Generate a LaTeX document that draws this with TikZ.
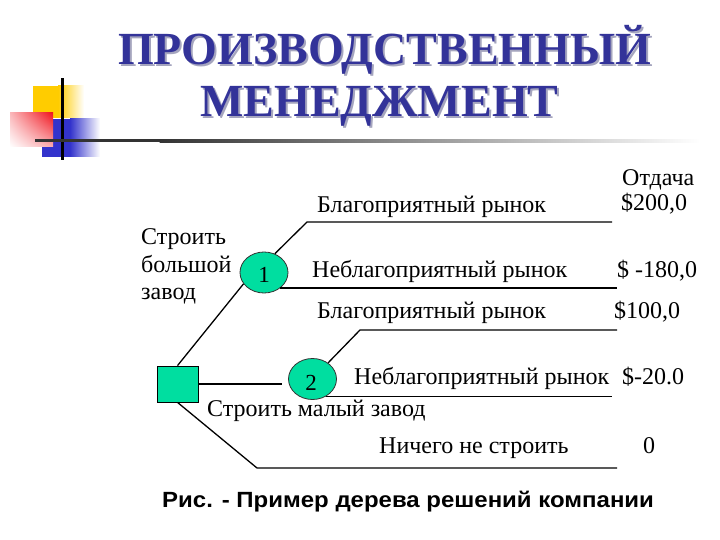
\documentclass[tikz,border=0pt]{standalone}
\usepackage{fontspec}
\usepackage{graphicx}
\setmainfont{Liberation Serif}
\newfontfamily\capfont{Liberation Sans}
\usetikzlibrary{shapes.geometric,shadings}
\definecolor{teal1}{RGB}{0,222,160}
\definecolor{navy1}{RGB}{51,51,153}
\definecolor{shad1}{RGB}{165,165,190}
\definecolor{yel1}{RGB}{255,204,0}
\definecolor{blu1}{RGB}{51,51,204}
\definecolor{red1}{RGB}{240,20,30}
\newcommand{\shadowtxt}[1]{\makebox[0pt][l]{\hspace{2pt}\raisebox{-2pt}{\color{shad1}#1}}{\color{navy1}#1}}
\tikzset{
  lbl/.style={anchor=base west, inner sep=0pt, font=\fontsize{24}{24}\selectfont},
  ttl/.style={anchor=base west, inner sep=0pt, font=\fontsize{46}{46}\selectfont\bfseries},
  chance/.style={ellipse, draw=black!80, line width=0.8pt, fill=teal1, minimum width=48pt, minimum height=41pt, inner sep=0pt},
  decision/.style={rectangle, draw=black, line width=0.8pt, fill=teal1, minimum width=41pt, minimum height=36pt, inner sep=0pt},
  edge/.style={line width=1.3pt, black}
}
\begin{document}
\begin{tikzpicture}[x=1pt,y=-1pt]
\useasboundingbox (0,0) rectangle (720,540);
% decorative squares
\fill[yel1] (33,86) rectangle (58,118);
\shade[left color=yel1, right color=white] (58,86) rectangle (84,118);
\fill[blu1] (42,119) rectangle (70,157);
\shade[left color=blu1, right color=white] (70,119) rectangle (100,157);
\shade[upper right=red1, upper left=red1!30, lower right=red1!35, lower left=white] (10,113) rectangle (53,147);
\fill[black] (60.5,78) rectangle (63.5,160);
\fill[black!80] (35,139.5) rectangle (160,142.5);
\shade[left color=black!80, right color=white] (159.5,139.5) rectangle (700,142.5);
% title
\node[ttl] (t1) at (118,65) {\shadowtxt{ПРОИЗВОДСТВЕННЫЙ}};
\node[ttl] (t2) at (200,117) {\shadowtxt{МЕНЕДЖМЕНТ}};
% tree nodes
\node[decision] (sq) at (177.5,384) {};
\node[chance] (c1) at (264,272.5) {};
\node[chance] (c2) at (312.5,379) {};
\node[anchor=base, inner sep=0pt, font=\fontsize{23}{23}\selectfont] (n1) at (264,282) {1};
\node[anchor=base, inner sep=0pt, font=\fontsize{23}{23}\selectfont] (n2) at (311,390) {2};
% coordinates
\coordinate (a1) at (307,222);
\coordinate (e1) at (612,222);
\coordinate (e2) at (617,288);
\coordinate (a3) at (360,330);
\coordinate (e3) at (617,330);
\coordinate (e4) at (612,396);
\coordinate (a5) at (257,468);
\coordinate (e5) at (617,468);
% connectors
\draw[edge] (sq.north) -- (c1.209);
\draw[edge] (c1.60) -- (a1) -- (e1);
\draw[edge] (c1.-44) -- (c1.-44 -| e2);
\draw[edge, shorten >=6pt] (sq.east) -- (sq.east -| c2.west);
\draw[edge] (c2.46) -- (a3) -- (e3);
\draw[edge] (c2.-52) -- (c2.-52 -| e4);
\draw[edge] (sq.south) -- (a5) -- (e5);
% labels
\node[lbl] (l1) at (141,244) {Строить};
\node[lbl] (l2) at (141,272) {большой};
\node[lbl] (l3) at (141,299) {завод};
\node[lbl] (b1) at (317,212) {Благоприятный рынок};
\node[lbl] (b2) at (312,277) {Неблагоприятный рынок};
\node[lbl] (b3) at (317,318) {Благоприятный рынок};
\node[lbl] (b4) at (354,384) {Неблагоприятный рынок};
\node[lbl] (b5) at (207,416) {Строить малый завод};
\node[lbl] (b6) at (379,453) {Ничего не строить};
\node[lbl] (v0) at (622,186) {Отдача};
\node[lbl] (v1) at (621,211) {\$200,0};
\node[lbl] (v2) at (617,277) {\$ -180,0};
\node[lbl] (v3) at (614,318) {\$100,0};
\node[lbl] (v4) at (622,384) {\$-20.0};
\node[lbl] (v5) at (643,453) {0};
\node[anchor=base west, inner sep=0pt, font=\capfont\bfseries\fontsize{22}{22}\selectfont] (cap) at (162,507) {\scalebox{1.09}[1]{Рис. - Пример дерева решений компании}};
\end{tikzpicture}
\end{document}
